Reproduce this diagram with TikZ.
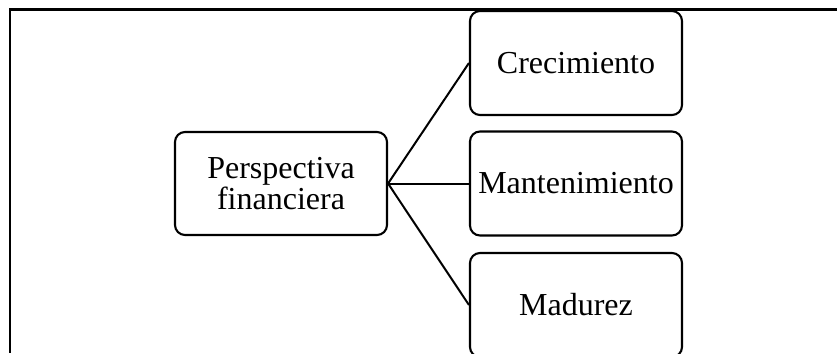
\documentclass[tikz,border=0pt]{standalone}
\usepackage{fontspec}
\setmainfont{Liberation Serif}
\begin{document}
\begin{tikzpicture}[x=1pt,y=-1pt,
  card/.style={draw=black, line width=2.1pt, rounded corners=10pt, fill=white,
    minimum width=212pt, minimum height=104pt, inner sep=2pt, align=center,
    font=\fontsize{32}{30.5}\selectfont},
  link/.style={draw=black, line width=2pt}]
  \useasboundingbox (0,0) rectangle (837,353);
  \clip (0,0) rectangle (837,353);
  % outer frame (top and left edges)
  \coordinate (fr) at (837,9.5);
  \coordinate (fc) at (10,9.5);
  \coordinate (fb) at (10,353);
  \draw[line width=2.2pt] (fr) -- (fc) -- (fb);
  % boxes
  \node[card, minimum height=103pt] (persp) at (281,183.5) {Perspectiva\\financiera};
  \node[card] (crec) at (576,63) {Crecimiento};
  \node[card] (mant) at (576,183.5) {Mantenimiento};
  \node[card] (madu) at (576,305) {Madurez};
  % connectors
  \draw[link] (persp.east) -- (crec.west);
  \draw[link] (persp.east) -- (mant.west);
  \draw[link] (persp.east) -- (madu.west);
\end{tikzpicture}
\end{document}
